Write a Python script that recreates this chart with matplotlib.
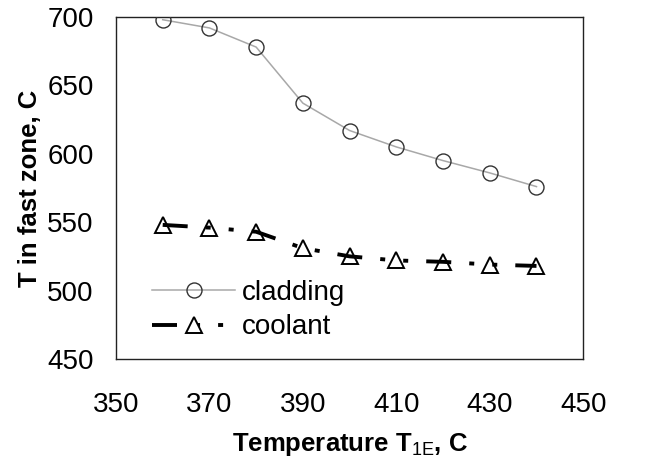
import numpy as np
import matplotlib.pyplot as plt
from matplotlib.legend_handler import HandlerTuple

plt.rcParams['font.family'] = ['Liberation Sans', 'DejaVu Sans']
plt.rcParams['mathtext.fontset'] = 'custom'
plt.rcParams['mathtext.rm'] = 'Liberation Sans'
plt.rcParams['lines.scale_dashes'] = False

temp_1e = [360, 370, 380, 390, 400, 410, 420, 430, 440]
cladding = [698, 692, 678, 637, 617, 605, 595, 586, 576]
coolant = [548, 546, 543, 531, 525, 522, 521, 519, 518]

x_ticks = [350, 370, 390, 410, 430, 450]
y_ticks = [450, 500, 550, 600, 650, 700]

fig = plt.figure(figsize=(6.59, 4.59), dpi=100)
ax = fig.add_axes([0.176, 0.218, 0.709, 0.745])

clad_line, = ax.plot(temp_1e, cladding, color='#a8a8a8', lw=1.1,
                     marker='o', ms=10.8, mfc='none', mec='#333333', mew=1.0,
                     zorder=3)

cool_marks, = ax.plot(temp_1e, coolant, ls='none', marker='^', ms=12,
                      mfc='white', mec='black', mew=1.4, zorder=3)
cool_line, = ax.plot(temp_1e, coolant, color='black', lw=2.8,
                     dashes=(18, 13, 3.6, 13, 3.6, 13), zorder=4)

ax.set_xlim(350, 450)
ax.set_ylim(450, 700)
ax.set_xticks(x_ticks)
ax.set_yticks(y_ticks)
ax.tick_params(length=0, labelsize=20)
ax.tick_params(axis='x', pad=24)
ax.tick_params(axis='y', pad=16)

for sp in ax.spines.values():
    sp.set_color('#222222')
    sp.set_linewidth(1.0)

ax.set_xlabel(r'Temperature T$_{\mathrm{1E}}$, C', fontsize=18.5,
              fontweight='bold', labelpad=9)
ax.set_ylabel('T in fast zone, C', fontsize=18.5, fontweight='bold',
              labelpad=4)

ax.legend([clad_line, (cool_line, cool_marks)], ['cladding', 'coolant'],
          handler_map={tuple: HandlerTuple(ndivide=1)},
          loc='center left', bbox_to_anchor=(0.077, 0.143),
          frameon=False, fontsize=20, handlelength=3.0,
          handletextpad=0.25, borderpad=0, borderaxespad=0,
          labelspacing=0.32)

fig.savefig('out.png', dpi=100)
